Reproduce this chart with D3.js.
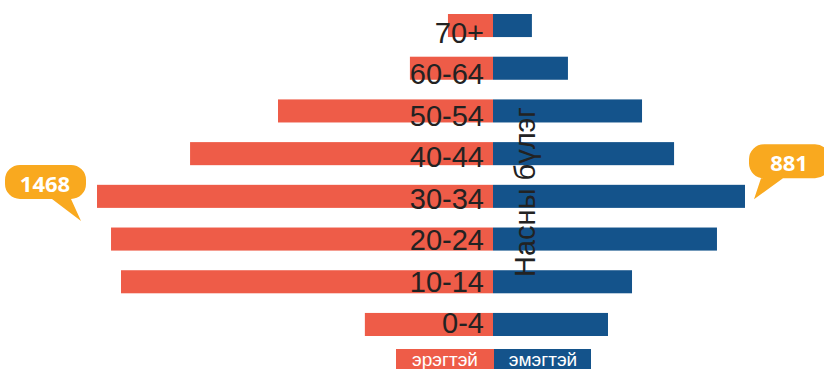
<!DOCTYPE html>
<html>
<head>
<meta charset="utf-8">
<script src="https://cdn.jsdelivr.net/npm/d3@7"></script>
<style>
  html, body { margin: 0; padding: 0; background: #fff; overflow: hidden; }
  svg { display: block; }
</style>
</head>
<body>
<svg class="pyramid-svg"></svg>
<script>
const ageGroups = ["70+", "60-64", "50-54", "40-44", "30-34", "20-24", "10-14", "0-4"];

// эрэгтэй (left) / эмэгтэй (right)
const maleValues = [167, 308, 797, 1123, 1468, 1416, 1379, 475];
const femaleValues = [136, 262, 521, 633, 881, 783, 486, 402];

const legendLabels = ["эрэгтэй", "эмэгтэй"];
const axisTitle = "Насны бүлэг";

const colors = { male: "#EE5C48", female: "#14538B", bubble: "#F9A91F", text: "#222222" };

const W = 824;
const H = 369;
const centerX = 493;

const svg = d3.select('.pyramid-svg')
  .attr('width', W)
  .attr('height', H);

const rows = ageGroups.map((g, i) => ({ group: g, male: maleValues[i], female: femaleValues[i] }));

const maxMale = d3.max(maleValues);
const maxFemale = d3.max(femaleValues);

// each side has its own extent in the original
const xLeft = d3.scaleLinear().domain([0, maxMale]).range([centerX, 97]);
const xRight = d3.scaleLinear().domain([0, maxFemale]).range([centerX, 745]);

const y = d3.scaleBand()
  .domain(ageGroups)
  .range([14, 336])
  .paddingInner(0.46)
  .paddingOuter(0);

// labels sit a little lower than the bars and drift slightly
const yLabel = d3.scalePoint()
  .domain(ageGroups)
  .range([43, 333]);

// bars
svg.append('g').selectAll('rect')
  .data(rows)
  .join('rect')
  .attr('x', d => xLeft(d.male))
  .attr('y', d => y(d.group))
  .attr('width', d => centerX - xLeft(d.male))
  .attr('height', y.bandwidth())
  .attr('fill', colors.male);

svg.append('g').selectAll('rect')
  .data(rows)
  .join('rect')
  .attr('x', centerX)
  .attr('y', d => y(d.group))
  .attr('width', d => xRight(d.female) - centerX)
  .attr('height', y.bandwidth())
  .attr('fill', colors.female);

// age group labels
svg.append('g').selectAll('text')
  .data(rows)
  .join('text')
  .attr('x', 484)
  .attr('y', d => yLabel(d.group))
  .attr('text-anchor', 'end')
  .attr('font-family', '"Liberation Sans", Arial, sans-serif')
  .attr('font-size', '29px')
  .attr('fill', colors.text)
  .text(d => d.group);

// axis title
svg.append('text')
  .attr('transform', `translate(535,192) rotate(-90)`)
  .attr('text-anchor', 'middle')
  .attr('font-family', '"Liberation Sans", Arial, sans-serif')
  .attr('font-size', '29px')
  .attr('fill', colors.text)
  .text(axisTitle);

// legend
const legendX = d3.scaleLinear().domain([0, 1]).range([396, 494]);
const legend = svg.append('g').selectAll('g')
  .data(legendLabels)
  .join('g');

legend.append('rect')
  .attr('x', (d, i) => i === 0 ? legendX(0) : centerX + 1)
  .attr('y', 349)
  .attr('width', (d, i) => i === 0 ? legendX(1) - legendX(0) : 97)
  .attr('height', 22)
  .attr('fill', (d, i) => i === 0 ? colors.male : colors.female);

legend.append('text')
  .attr('x', (d, i) => i === 0 ? 445 : 543)
  .attr('y', 366)
  .attr('text-anchor', 'middle')
  .attr('font-family', '"Liberation Sans", Arial, sans-serif')
  .attr('font-size', '19px')
  .attr('fill', '#fff')
  .text(d => d);

// callout bubbles
function bubblePath(x0, y0, w, h, r, tailA, tailB, tip) {
  const p = d3.path();
  p.moveTo(x0 + r, y0);
  p.lineTo(x0 + w - r, y0);
  p.arcTo(x0 + w, y0, x0 + w, y0 + r, r);
  p.lineTo(x0 + w, y0 + h - r);
  p.arcTo(x0 + w, y0 + h, x0 + w - r, y0 + h, r);
  p.lineTo(tailB, y0 + h);
  p.lineTo(tip[0], tip[1]);
  p.lineTo(tailA, y0 + h);
  p.lineTo(x0 + r, y0 + h);
  p.arcTo(x0, y0 + h, x0, y0 + h - r, r);
  p.lineTo(x0, y0 + r);
  p.arcTo(x0, y0, x0 + r, y0, r);
  p.closePath();
  return p.toString();
}

const maleMaxRow = rows.find(d => d.male === maxMale);
const femaleMaxRow = rows.find(d => d.female === maxFemale);

const leftTip = [xLeft(maxMale) - 16, y(maleMaxRow.group) + y.bandwidth() + 13];
const rightTip = [xRight(maxFemale) + 9, y(femaleMaxRow.group) + y.bandwidth() / 2 + 3];

const bubbles = [
  { value: maxMale, tip: leftTip, x0: leftTip[0] - 76, y0: leftTip[1] - 56, tailA: leftTip[0] - 29, tailB: leftTip[0] - 10 },
  { value: maxFemale, tip: rightTip, x0: rightTip[0] - 5, y0: rightTip[1] - 55, tailA: rightTip[0] + 7, tailB: rightTip[0] + 29 },
];

const bub = svg.append('g').selectAll('g')
  .data(bubbles)
  .join('g');

bub.append('path')
  .attr('d', d => bubblePath(d.x0, d.y0, 81, 34, 15, d.tailA, d.tailB, d.tip))
  .attr('fill', colors.bubble);

bub.append('text')
  .attr('x', d => d.x0 + 40)
  .attr('y', d => d.y0 + 27)
  .attr('text-anchor', 'middle')
  .attr('font-family', '"Open Sans", sans-serif')
  .attr('font-weight', 'bold')
  .attr('font-size', '22px')
  .attr('fill', '#fff')
  .text(d => d.value);
</script>
</body>
</html>
